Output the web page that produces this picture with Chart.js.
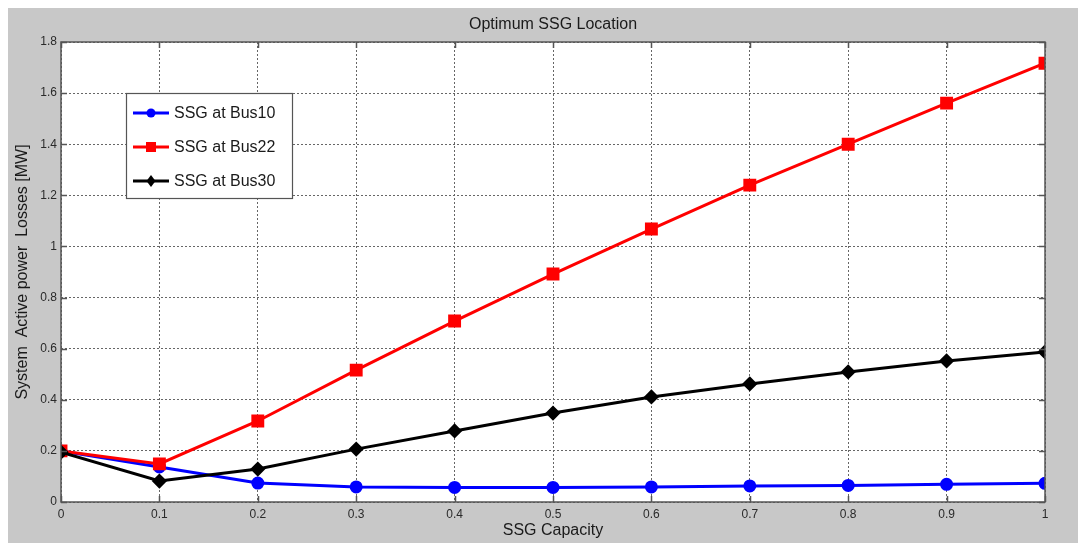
<!DOCTYPE html>
<html>
<head>
<meta charset="utf-8">
<script src="https://cdn.jsdelivr.net/npm/chart.js@4.4.1/dist/chart.umd.min.js"></script>
<style>
  html, body { margin: 0; padding: 0; background: #ffffff; }
  #wrap { width: 1078px; height: 543px; position: relative; }
</style>
</head>
<body>
<div id="wrap"><canvas id="c" width="1078" height="543"></canvas></div>
<script>
// SSG capacity (x) and system active power losses in MW for each bus location
const capacity = [0, 0.1, 0.2, 0.3, 0.4, 0.5, 0.6, 0.7, 0.8, 0.9, 1.0];
const lossBus10 = [0.200, 0.137, 0.074, 0.059, 0.057, 0.057, 0.059, 0.063, 0.065, 0.069, 0.073];
const lossBus22 = [0.200, 0.149, 0.317, 0.516, 0.708, 0.892, 1.068, 1.240, 1.400, 1.561, 1.717];
const lossBus30 = [0.195, 0.082, 0.129, 0.207, 0.278, 0.348, 0.411, 0.462, 0.509, 0.552, 0.587];
const seriesNames = ['SSG at Bus10', 'SSG at Bus22', 'SSG at Bus30'];
const xTicks = [0, 0.1, 0.2, 0.3, 0.4, 0.5, 0.6, 0.7, 0.8, 0.9, 1];
const yTicks = [0, 0.2, 0.4, 0.6, 0.8, 1, 1.2, 1.4, 1.6, 1.8];
const titleText = 'Optimum SSG Location';
const xTitle = 'SSG Capacity';
const yTitle = 'System  Active power  Losses [MW]';

const FONT = '"Liberation Sans", Arial, sans-serif';

function pts(ys) { return capacity.map((x, i) => ({ x: x, y: ys[i] })); }

// Figure background, axes box with inward ticks, titles and legend
const figurePlugin = {
  id: 'figure',
  beforeDraw(chart) {
    const ctx = chart.ctx;
    ctx.save();
    ctx.fillStyle = '#ffffff';
    ctx.fillRect(0, 0, chart.width, chart.height);
    ctx.fillStyle = '#c8c8c8';
    ctx.fillRect(8, 8, chart.width - 8, chart.height - 8);
    const a = chart.chartArea;
    ctx.fillStyle = '#ffffff';
    ctx.fillRect(a.left, a.top, a.right - a.left, a.bottom - a.top);
    ctx.restore();
  },
  afterDatasetsDraw(chart) {
    const ctx = chart.ctx;
    const a = chart.chartArea;
    const xs = chart.scales.x, ys = chart.scales.y;
    ctx.save();
    // tick marks pointing inward on all four sides
    ctx.strokeStyle = '#555555';
    ctx.lineWidth = 1.5;
    ctx.beginPath();
    xTicks.forEach(v => {
      const px = Math.round(xs.getPixelForValue(v)) + 0.5;
      ctx.moveTo(px, a.bottom); ctx.lineTo(px, a.bottom - 6);
      ctx.moveTo(px, a.top); ctx.lineTo(px, a.top + 6);
    });
    yTicks.forEach(v => {
      const py = Math.round(ys.getPixelForValue(v)) + 0.5;
      ctx.moveTo(a.left, py); ctx.lineTo(a.left + 6, py);
      ctx.moveTo(a.right, py); ctx.lineTo(a.right - 6, py);
    });
    ctx.stroke();
    // axes box
    ctx.strokeStyle = '#555555';
    ctx.lineWidth = 1.5;
    ctx.strokeRect(a.left, a.top, a.right - a.left, a.bottom - a.top);

    // titles
    ctx.fillStyle = '#1a1a1a';
    ctx.textAlign = 'center';
    ctx.textBaseline = 'middle';
    ctx.font = '16px ' + FONT;
    ctx.fillText(titleText, (a.left + a.right) / 2, 25);
    ctx.font = '16px ' + FONT;
    ctx.fillText(xTitle, (a.left + a.right) / 2, 531);
    ctx.save();
    ctx.translate(23, (a.top + a.bottom) / 2);
    ctx.rotate(-Math.PI / 2);
    ctx.fillText(yTitle, 0, 0);
    ctx.restore();

    // legend
    const lx = 126, ly = 93, lw = 166, lh = 105;
    ctx.fillStyle = '#ffffff';
    ctx.fillRect(lx, ly, lw, lh);
    ctx.strokeStyle = '#555555';
    ctx.lineWidth = 1.2;
    ctx.strokeRect(lx + 0.5, ly + 0.5, lw, lh);
    const rowsY = [113, 147, 181];
    chart.data.datasets.forEach((ds, i) => {
      const y = rowsY[i];
      ctx.strokeStyle = ds.borderColor;
      ctx.lineWidth = 3;
      ctx.beginPath();
      ctx.moveTo(133, y); ctx.lineTo(169, y);
      ctx.stroke();
      ctx.fillStyle = ds.borderColor;
      ctx.beginPath();
      if (ds.pointStyle === 'circle') {
        ctx.arc(151, y, 4.5, 0, Math.PI * 2);
      } else if (ds.pointStyle === 'rect') {
        ctx.rect(146, y - 5, 10, 10);
      } else {
        ctx.moveTo(151, y - 6); ctx.lineTo(155.5, y); ctx.lineTo(151, y + 6); ctx.lineTo(146.5, y);
        ctx.closePath();
      }
      ctx.fill();
      ctx.fillStyle = '#1a1a1a';
      ctx.font = '16px ' + FONT;
      ctx.textAlign = 'left';
      ctx.textBaseline = 'middle';
      ctx.fillText(seriesNames[i], 174, y + 1);
    });
    ctx.restore();
  }
};

new Chart(document.getElementById('c'), {
  type: 'line',
  data: {
    datasets: [
      { label: seriesNames[0], data: pts(lossBus10), borderColor: '#0000ff', backgroundColor: '#0000ff',
        borderWidth: 3, pointStyle: 'circle', pointRadius: 5, order: 2 },
      { label: seriesNames[1], data: pts(lossBus22), borderColor: '#ff0000', backgroundColor: '#ff0000',
        borderWidth: 3, pointStyle: 'rect', pointRadius: 7, order: 1 },
      { label: seriesNames[2], data: pts(lossBus30), borderColor: '#000000', backgroundColor: '#000000',
        borderWidth: 3, pointStyle: 'rectRot', pointRadius: 5.5, order: 0 }
    ]
  },
  options: {
    responsive: false,
    animation: false,
    devicePixelRatio: 1,
    layout: { padding: { left: 8, top: 42, right: 33, bottom: 0 } },
    plugins: { legend: { display: false }, tooltip: { enabled: false }, title: { display: false } },
    elements: { line: { tension: 0 } },
    scales: {
      x: {
        type: 'linear', min: 0, max: 1,
        afterBuildTicks: s => { s.ticks = xTicks.map(v => ({ value: v })); },
        afterFit: s => { s.height = 41; },
        ticks: { color: '#2a2a2a', font: { family: FONT, size: 12 }, padding: 5,
                 maxRotation: 0, autoSkip: false, callback: v => String(v) },
        grid: { color: '#666666', lineWidth: 1, drawTicks: false },
        border: { display: false, dash: [2, 2] }
      },
      y: {
        type: 'linear', min: 0, max: 1.8,
        afterBuildTicks: s => { s.ticks = yTicks.map(v => ({ value: v })); },
        afterFit: s => { s.width = 53; },
        ticks: { color: '#2a2a2a', font: { family: FONT, size: 12 }, padding: 4,
                 autoSkip: false, callback: v => String(Math.round(v * 10) / 10) },
        grid: { color: '#666666', lineWidth: 1, drawTicks: false },
        border: { display: false, dash: [2, 2] }
      }
    }
  },
  plugins: [figurePlugin]
});
</script>
</body>
</html>
